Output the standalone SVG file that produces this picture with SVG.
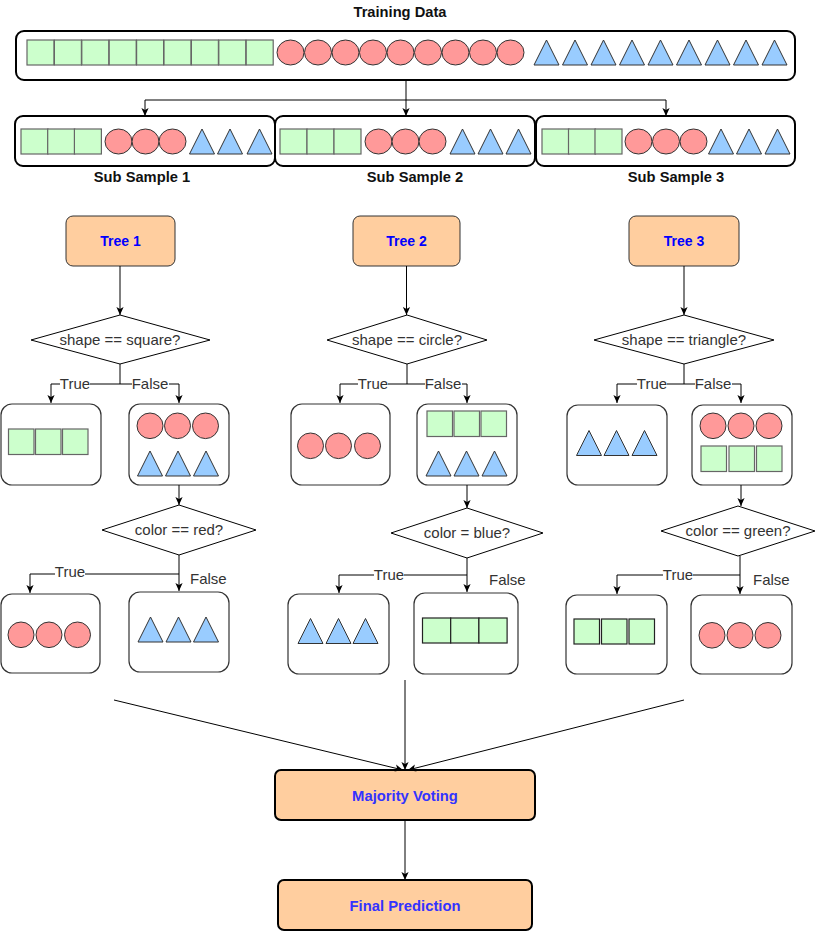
<svg xmlns="http://www.w3.org/2000/svg" xmlns:xlink="http://www.w3.org/1999/xlink" width="816" height="932" viewBox="0 0 816 932">
<style>
.sq{fill:#CCFFCC;stroke:#666666;stroke-width:1.2}
.sqd{fill:#CCFFCC;stroke:#222222;stroke-width:1.2}
.ci{fill:#FF9999;stroke:#333333;stroke-width:1}
.tr{fill:#99CCFF;stroke:#333333;stroke-width:1}
.big{fill:#ffffff;stroke:#000000;stroke-width:2}
.leaf{fill:#ffffff;stroke:#333333;stroke-width:1.2}
.tree{fill:#FFCE9F;stroke:#333333;stroke-width:1}
.vote{fill:#FFCE9F;stroke:#000000;stroke-width:2}
.dia{fill:#ffffff;stroke:#000000;stroke-width:1}
.conn{fill:none;stroke:#000000;stroke-width:1;marker-end:url(#ah)}
.line{fill:none;stroke:#000000;stroke-width:1}
.title{font-family:"Liberation Sans",Arial,sans-serif;font-size:14.7px;font-weight:bold;fill:#111111;text-anchor:middle}
.tt{font-family:"Liberation Sans",Arial,sans-serif;font-size:14px;font-weight:bold;fill:#0000FF;text-anchor:middle}
.vt{font-family:"Liberation Sans",Arial,sans-serif;font-size:14.8px;font-weight:bold;fill:#3333FF;text-anchor:middle}
.q{font-family:"Liberation Sans",Arial,sans-serif;font-size:15px;fill:#333333;text-anchor:middle}
.lbl{font-family:"Liberation Sans",Arial,sans-serif;font-size:15px;fill:#333333}
.bg{fill:#ffffff;stroke:none}
</style>
<defs>
<marker id="ah" viewBox="0 0 10 10" refX="10" refY="5" markerWidth="8" markerHeight="8" markerUnits="userSpaceOnUse" orient="auto">
<path d="M0,0.5 L10,5 L0,9.5 L2.5,5 z" fill="#000000"/>
</marker>
<rect id="S" width="27" height="25"/>
<rect id="s" width="25.5" height="25.5"/>
<ellipse id="c" cx="13.5" cy="12.5" rx="13.5" ry="12.5"/>
<ellipse id="cc" cx="13" cy="12.8" rx="13" ry="12.8"/>
<polygon id="t" points="0,25 12.5,0 25,25"/>
</defs>

<g id="training-data">
<text class="title" x="400" y="17">Training Data</text>
<rect class="big" x="16" y="31" width="779" height="49" rx="8"/>
<use href="#S" class="sq" x="27" y="40"/><use href="#S" class="sq" x="54.4" y="40"/><use href="#S" class="sq" x="81.8" y="40"/>
<use href="#S" class="sq" x="109.2" y="40"/><use href="#S" class="sq" x="136.6" y="40"/><use href="#S" class="sq" x="164" y="40"/>
<use href="#S" class="sq" x="191.4" y="40"/><use href="#S" class="sq" x="218.8" y="40"/><use href="#S" class="sq" x="246.2" y="40"/>
<use href="#c" class="ci" x="277" y="40"/><use href="#c" class="ci" x="304.5" y="40"/><use href="#c" class="ci" x="332" y="40"/>
<use href="#c" class="ci" x="359.5" y="40"/><use href="#c" class="ci" x="387" y="40"/><use href="#c" class="ci" x="414.5" y="40"/>
<use href="#c" class="ci" x="442" y="40"/><use href="#c" class="ci" x="469.5" y="40"/><use href="#c" class="ci" x="497" y="40"/>
<use href="#t" class="tr" x="534" y="40"/><use href="#t" class="tr" x="562.5" y="40"/><use href="#t" class="tr" x="591" y="40"/>
<use href="#t" class="tr" x="619.5" y="40"/><use href="#t" class="tr" x="648" y="40"/><use href="#t" class="tr" x="676.5" y="40"/>
<use href="#t" class="tr" x="705" y="40"/><use href="#t" class="tr" x="733.5" y="40"/><use href="#t" class="tr" x="762" y="40"/>
</g>

<g id="sub-sample-1">
<rect class="big" x="15" y="116" width="260" height="50" rx="8"/>
<use href="#S" class="sq" x="21" y="129"/><use href="#S" class="sq" x="47.7" y="129"/><use href="#S" class="sq" x="74.4" y="129"/>
<use href="#c" class="ci" x="105" y="129"/><use href="#c" class="ci" x="132" y="129"/><use href="#c" class="ci" x="159" y="129"/>
<use href="#t" class="tr" x="189.5" y="129"/><use href="#t" class="tr" x="217.5" y="129"/><use href="#t" class="tr" x="247" y="129"/>
<text class="title" x="142" y="182">Sub Sample 1</text>
</g>
<g id="sub-sample-2">
<rect class="big" x="275" y="116" width="260" height="50" rx="8"/>
<use href="#S" class="sq" x="280" y="129"/><use href="#S" class="sq" x="307" y="129"/><use href="#S" class="sq" x="334" y="129"/>
<use href="#c" class="ci" x="365" y="129"/><use href="#c" class="ci" x="392" y="129"/><use href="#c" class="ci" x="419" y="129"/>
<use href="#t" class="tr" x="450" y="129"/><use href="#t" class="tr" x="478" y="129"/><use href="#t" class="tr" x="506" y="129"/>
<text class="title" x="415" y="182">Sub Sample 2</text>
</g>
<g id="sub-sample-3">
<rect class="big" x="536" y="116" width="259" height="50" rx="8"/>
<use href="#S" class="sq" x="542" y="129"/><use href="#S" class="sq" x="568.5" y="129"/><use href="#S" class="sq" x="595" y="129"/>
<use href="#c" class="ci" x="625" y="129"/><use href="#c" class="ci" x="652.5" y="129"/><use href="#c" class="ci" x="680" y="129"/>
<use href="#t" class="tr" x="708.5" y="129"/><use href="#t" class="tr" x="736.5" y="129"/><use href="#t" class="tr" x="765" y="129"/>
<text class="title" x="676" y="182">Sub Sample 3</text>
</g>

<g id="tree-1">
<rect class="tree" x="66" y="216" width="109" height="50" rx="7"/>
<text class="tt" x="120.5" y="246">Tree 1</text>
</g>
<g id="tree-2">
<rect class="tree" x="353" y="216" width="107" height="50" rx="7"/>
<text class="tt" x="406.5" y="246">Tree 2</text>
</g>
<g id="tree-3">
<rect class="tree" x="629" y="216" width="110" height="50" rx="7"/>
<text class="tt" x="684" y="246">Tree 3</text>
</g>

<g id="q-square">
<polygon class="dia" points="31,340 120,315 210,340 120,364"/>
<text class="q" x="120" y="345">shape == square?</text>
</g>
<g id="q-circle">
<polygon class="dia" points="327,340 407,315 487,340 407,364"/>
<text class="q" x="407" y="345">shape == circle?</text>
</g>
<g id="q-triangle">
<polygon class="dia" points="594,340 684,315 774,340 684,364"/>
<text class="q" x="684" y="345">shape == triangle?</text>
</g>

<g id="t1-true">
<rect class="leaf" x="1" y="404" width="100" height="81" rx="11"/>
<use href="#s" class="sq" x="8.5" y="429"/><use href="#s" class="sq" x="35.5" y="429"/><use href="#s" class="sq" x="62.5" y="429"/>
</g>
<g id="t1-false">
<rect class="leaf" x="129" y="404" width="100" height="81" rx="11"/>
<use href="#cc" class="ci" x="137" y="413"/><use href="#cc" class="ci" x="164.5" y="413"/><use href="#cc" class="ci" x="192.5" y="413"/>
<use href="#t" class="tr" x="137.5" y="451"/><use href="#t" class="tr" x="165.5" y="451"/><use href="#t" class="tr" x="193.5" y="451"/>
</g>
<g id="t2-true">
<rect class="leaf" x="291" y="404" width="99" height="81" rx="11"/>
<use href="#cc" class="ci" x="297.5" y="433"/><use href="#cc" class="ci" x="325.5" y="433"/><use href="#cc" class="ci" x="354.5" y="433"/>
</g>
<g id="t2-false">
<rect class="leaf" x="417" y="404" width="100" height="81" rx="11"/>
<use href="#s" class="sq" x="427" y="411"/><use href="#s" class="sq" x="454" y="411"/><use href="#s" class="sq" x="481" y="411"/>
<use href="#t" class="tr" x="426" y="451"/><use href="#t" class="tr" x="454" y="451"/><use href="#t" class="tr" x="482" y="451"/>
</g>
<g id="t3-true">
<rect class="leaf" x="567" y="405" width="100" height="80" rx="11"/>
<use href="#t" class="tr" x="576.5" y="430.5"/><use href="#t" class="tr" x="604" y="430.5"/><use href="#t" class="tr" x="632" y="430.5"/>
</g>
<g id="t3-false">
<rect class="leaf" x="692" y="405" width="100" height="80" rx="11"/>
<use href="#cc" class="ci" x="700" y="413"/><use href="#cc" class="ci" x="728" y="413"/><use href="#cc" class="ci" x="756" y="413"/>
<use href="#s" class="sq" x="701" y="446"/><use href="#s" class="sq" x="729" y="446"/><use href="#s" class="sq" x="756.5" y="446"/>
</g>

<g id="q-red">
<polygon class="dia" points="102,530 179,505 256,530 179,555"/>
<text class="q" x="179" y="535">color == red?</text>
</g>
<g id="q-blue">
<polygon class="dia" points="391,533 467,508 543,533 467,558"/>
<text class="q" x="467" y="538">color = blue?</text>
</g>
<g id="q-green">
<polygon class="dia" points="661,531 738,506 815,531 738,556"/>
<text class="q" x="738" y="536">color == green?</text>
</g>

<g id="t1-red-true">
<rect class="leaf" x="1" y="594" width="99" height="79" rx="11"/>
<use href="#cc" class="ci" x="8" y="622"/><use href="#cc" class="ci" x="36" y="622"/><use href="#cc" class="ci" x="64.5" y="622"/>
</g>
<g id="t1-red-false">
<rect class="leaf" x="129" y="592" width="100" height="80" rx="11"/>
<use href="#t" class="tr" x="138" y="617"/><use href="#t" class="tr" x="166" y="617"/><use href="#t" class="tr" x="193.5" y="617"/>
</g>
<g id="t2-blue-true">
<rect class="leaf" x="288" y="594" width="101" height="80" rx="11"/>
<use href="#t" class="tr" x="298" y="618.5"/><use href="#t" class="tr" x="326" y="618.5"/><use href="#t" class="tr" x="353" y="618.5"/>
</g>
<g id="t2-blue-false">
<rect class="leaf" x="414" y="593" width="104" height="81" rx="11"/>
<rect class="sqd" x="422.5" y="618" width="28.2" height="25"/><rect class="sqd" x="450.7" y="618" width="28.2" height="25"/><rect class="sqd" x="478.9" y="618" width="28.2" height="25"/>
</g>
<g id="t3-green-true">
<rect class="leaf" x="566" y="595" width="101" height="79" rx="11"/>
<rect class="sqd" x="574" y="619" width="25.5" height="25"/><rect class="sqd" x="601.5" y="619" width="25.5" height="25"/><rect class="sqd" x="629" y="619" width="25.5" height="25"/>
</g>
<g id="t3-green-false">
<rect class="leaf" x="691" y="595" width="101" height="79" rx="11"/>
<use href="#cc" class="ci" x="699" y="622.5"/><use href="#cc" class="ci" x="727" y="622.5"/><use href="#cc" class="ci" x="755" y="622.5"/>
</g>

<g id="majority-voting">
<rect class="vote" x="275" y="770" width="260" height="50" rx="6"/>
<text class="vt" x="405" y="801">Majority Voting</text>
</g>
<g id="final-prediction">
<rect class="vote" x="278" y="880" width="254" height="50" rx="6"/>
<text class="vt" x="405" y="911">Final Prediction</text>
</g>

<g id="connectors">
<path class="line" d="M406,80 V100 M145,100 H666"/>
<path class="conn" d="M145,100 V116"/>
<path class="conn" d="M406,100 V116"/>
<path class="conn" d="M666,100 V116"/>

<path class="conn" d="M120,266 V315"/>
<path class="conn" d="M406.5,266 V315"/>
<path class="conn" d="M684,266 V315"/>

<path class="conn" d="M120,364 V384 H51 V403"/>
<path class="conn" d="M120,384 H179 V403"/>
<path class="conn" d="M407,364 V384 H340 V403"/>
<path class="conn" d="M407,384 H467 V403"/>
<path class="conn" d="M684,364 V384 H617 V403"/>
<path class="conn" d="M684,384 H741 V403"/>

<path class="conn" d="M179,485 V505"/>
<path class="conn" d="M467,485 V508"/>
<path class="conn" d="M741,485 V506"/>

<path class="conn" d="M179,555 V591"/>
<path class="conn" d="M179,574 H30 V593"/>
<path class="conn" d="M467,558 V592"/>
<path class="conn" d="M467,575 H339 V593"/>
<path class="conn" d="M740,556 V594"/>
<path class="conn" d="M740,575 H617 V594"/>

<path class="conn" d="M114,700 L403,770"/>
<path class="conn" d="M684,700 L408,770"/>
<path class="conn" d="M405,680 V770"/>
<path class="conn" d="M405,820 V880"/>

<rect class="bg" x="60" y="376" width="30" height="16"/>
<text class="lbl" x="75" y="389" text-anchor="middle">True</text>
<rect class="bg" x="132" y="376" width="37" height="16"/>
<text class="lbl" x="150" y="389" text-anchor="middle">False</text>
<rect class="bg" x="358" y="376" width="30" height="16"/>
<text class="lbl" x="373" y="389" text-anchor="middle">True</text>
<rect class="bg" x="425" y="376" width="37" height="16"/>
<text class="lbl" x="443" y="389" text-anchor="middle">False</text>
<rect class="bg" x="637" y="376" width="30" height="16"/>
<text class="lbl" x="652" y="389" text-anchor="middle">True</text>
<rect class="bg" x="695" y="376" width="37" height="16"/>
<text class="lbl" x="713" y="389" text-anchor="middle">False</text>

<rect class="bg" x="55" y="566" width="30" height="16"/>
<text class="lbl" x="70" y="577" text-anchor="middle">True</text>
<text class="lbl" x="190" y="584">False</text>
<rect class="bg" x="374" y="567" width="30" height="16"/>
<text class="lbl" x="389" y="580" text-anchor="middle">True</text>
<text class="lbl" x="489" y="585">False</text>
<rect class="bg" x="663" y="567" width="30" height="16"/>
<text class="lbl" x="678" y="580" text-anchor="middle">True</text>
<text class="lbl" x="753" y="585">False</text>
</g>
</svg>
